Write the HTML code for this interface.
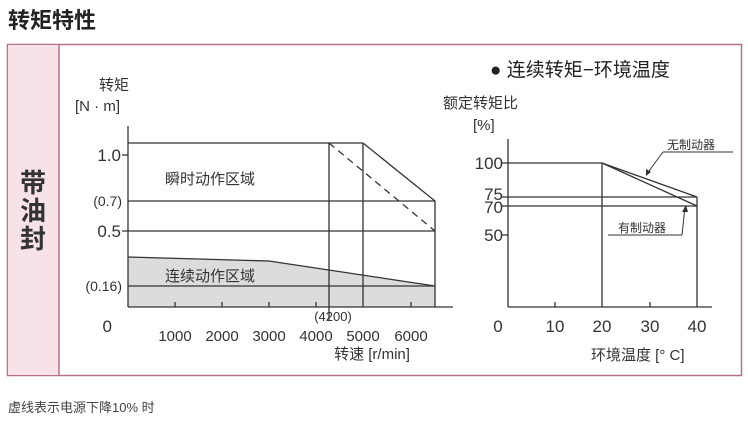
<!DOCTYPE html>
<html><head><meta charset="utf-8"><style>
body{margin:0;width:748px;height:424px;background:#fff;overflow:hidden;font-family:"Liberation Sans","Noto Sans CJK SC",sans-serif;}
</style></head><body>
<svg width="748" height="424" xmlns="http://www.w3.org/2000/svg" font-family="Liberation Sans, Noto Sans CJK SC, sans-serif">
<text x="8" y="28" font-size="22" font-weight="bold" fill="#222">转矩特性</text>
<rect x="7.5" y="44.5" width="734" height="331" fill="#fff" stroke="#b5708a" stroke-width="1.5"/>
<rect x="8" y="45" width="51" height="330" fill="#f6e2e7"/>
<line x1="59" y1="45" x2="59" y2="375" stroke="#b5708a" stroke-width="1.5"/>
<g font-size="26" font-weight="bold" fill="#333" text-anchor="middle">
<text x="33" y="192">带</text><text x="33" y="220">油</text><text x="33" y="248">封</text></g>
<!-- left chart -->
<polygon points="128,257 269,261 435,286 435,307 128,307" fill="#dcdcdc"/>
<polyline points="128,257 269,261 435,286" fill="none" stroke="#333" stroke-width="1.3"/>
<g fill="#333" font-size="15">
<text x="99" y="90">转矩</text>
<text x="75" y="111">[N · m]</text>
<text x="165" y="184">瞬时动作区域</text>
<text x="165" y="281">连续动作区域</text>
</g>
<g stroke="#333" stroke-width="1.3" fill="none">
<line x1="128" y1="126" x2="128" y2="307"/>
<line x1="128" y1="307" x2="453" y2="307"/>
<line x1="128" y1="143" x2="363" y2="143"/>
<polyline points="363,143 435,201 435,307"/>
<line x1="329" y1="143" x2="329" y2="320"/>
<line x1="363" y1="143" x2="363" y2="307"/>
<line x1="329" y1="143" x2="435" y2="231" stroke-dasharray="7,5"/>
<line x1="128" y1="201" x2="435" y2="201"/>
<line x1="122" y1="231" x2="435" y2="231"/>
<line x1="128" y1="286" x2="435" y2="286"/>
<line x1="122" y1="155" x2="128" y2="155"/>
<line x1="175" y1="302" x2="175" y2="307"/><line x1="222" y1="302" x2="222" y2="307"/><line x1="269" y1="302" x2="269" y2="307"/><line x1="316" y1="302" x2="316" y2="307"/><line x1="411" y1="302" x2="411" y2="307"/>
</g>
<g fill="#333" font-size="17" text-anchor="end">
<text x="121" y="161">1.0</text><text x="121" y="237">0.5</text>
<text x="122" y="206" font-size="14">(0.7)</text><text x="122" y="291" font-size="14">(0.16)</text>
<text x="112" y="332">0</text>
</g>
<g fill="#333" font-size="15" text-anchor="middle">
<text x="175" y="341">1000</text><text x="222" y="341">2000</text><text x="269" y="341">3000</text><text x="316" y="341">4000</text><text x="363" y="341">5000</text><text x="411" y="341">6000</text>
<text x="333" y="321" font-size="13">(4200)</text>
<text x="372" y="359">转速 [r/min]</text>
</g>
<!-- right chart -->
<text x="490" y="76" font-size="19" fill="#222">● 连续转矩−环境温度</text>
<g fill="#333" font-size="15">
<text x="443" y="108">额定转矩比</text>
<text x="473" y="130">[%]</text>
<text x="591" y="360">环境温度 [°  C]</text>
</g>
<g stroke="#333" stroke-width="1.3" fill="none">
<line x1="508" y1="139" x2="508" y2="307"/>
<line x1="508" y1="307" x2="712" y2="307"/>
<line x1="502" y1="163" x2="602" y2="163"/>
<line x1="602" y1="163" x2="602" y2="307"/>
<line x1="697" y1="197" x2="697" y2="307"/>
<line x1="502" y1="197" x2="697" y2="197"/>
<line x1="502" y1="206" x2="697" y2="206"/>
<line x1="502" y1="235" x2="508" y2="235"/>
<polyline points="602,163 697,197"/>
<polyline points="602,163 697,206"/>
<line x1="555" y1="302" x2="555" y2="307"/><line x1="650" y1="302" x2="650" y2="307"/>
<line x1="663" y1="152" x2="733" y2="152" stroke-width="1"/>
<line x1="663" y1="152" x2="646" y2="175" stroke-width="1"/>
<line x1="608" y1="235" x2="682" y2="235" stroke-width="1"/>
<line x1="682" y1="235" x2="685" y2="207" stroke-width="1"/>
</g>
<polygon points="646,176 646,169 651,172" fill="#333"/>
<polygon points="686,205 682,212 688,212" fill="#333"/>
<g fill="#333" font-size="12">
<text x="667" y="149">无制动器</text>
<text x="618" y="232">有制动器</text>
</g>
<g fill="#333" font-size="17" text-anchor="end">
<text x="503" y="169">100</text><text x="503" y="200">75</text><text x="503" y="213">70</text><text x="503" y="241">50</text>
</g>
<g fill="#333" font-size="17" text-anchor="middle">
<text x="498" y="332">0</text><text x="555" y="332">10</text><text x="602" y="332">20</text><text x="650" y="332">30</text><text x="697" y="332">40</text>
</g>
<text x="8" y="412" font-size="13" fill="#444">虚线表示电源下降10% 时</text>
</svg>
</body></html>
